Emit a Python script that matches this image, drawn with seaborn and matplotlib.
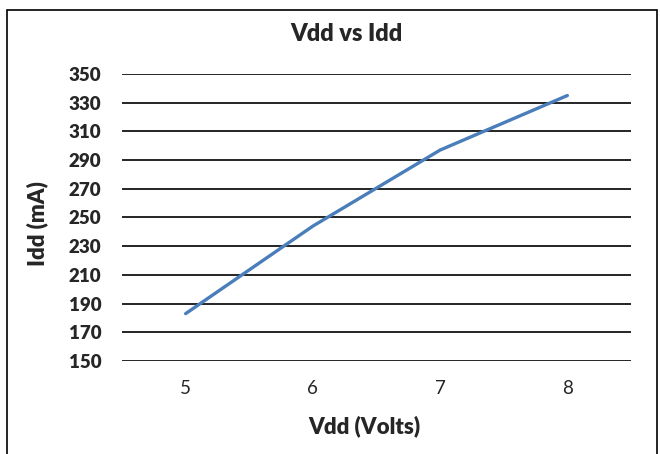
import matplotlib
matplotlib.use("Agg")
import matplotlib.pyplot as plt
import seaborn as sns
import pandas as pd
from matplotlib.patches import Rectangle

# Data
vdd_volts = ["5", "6", "7", "8"]
idd_ma = [183, 244, 297, 335]
y_ticks = [150, 170, 190, 210, 230, 250, 270, 290, 310, 330, 350]

sns.set_theme(style="white")
plt.rcParams['font.family'] = ['Lato', 'DejaVu Sans']

df = pd.DataFrame({"Vdd": vdd_volts, "Idd": idd_ma})

W, H = 660, 454
fig = plt.figure(figsize=(W / 100, H / 100), dpi=100)
fig.patch.set_facecolor("white")
ax = fig.add_axes([122 / W, 1 - 361 / H, (631 - 122) / W, (361 - 74) / H])

sns.lineplot(data=df, x="Vdd", y="Idd", ax=ax, color="#4A7EBB", linewidth=2.4,
             sort=False, zorder=3)

ax.set_xlim(-0.5, len(vdd_volts) - 0.5)
ax.set_ylim(150, 350)
ax.set_yticks(y_ticks)
ax.set_yticklabels([str(v) for v in y_ticks], fontweight="heavy", fontsize=13.5)
ax.tick_params(axis="y", length=0, pad=15)
ax.tick_params(axis="x", length=0, pad=14, labelsize=13.5)
ax.yaxis.grid(True, color="black", linewidth=1.2)
ax.xaxis.grid(False)
for s in ax.spines.values():
    s.set_visible(False)

ax.set_xlabel("Vdd (Volts)", fontweight="heavy", fontsize=16)
ax.xaxis.label.set_verticalalignment("center")
ax.xaxis.set_label_coords((364 - 122) / 509, (361 - 426) / 287)
ax.set_ylabel("Idd (mA)", fontweight="heavy", fontsize=16)
ax.yaxis.label.set_verticalalignment("center")
ax.yaxis.set_label_coords((37 - 122) / 509, (361 - 224) / 287)
fig.text(346 / W, 1 - 34 / H, "Vdd vs Idd", ha="center", va="center",
         fontweight="heavy", fontsize=17)

fig.patches.append(Rectangle((7, -5), 650, 444 + 5, transform=None,
                             fill=False, edgecolor="black", linewidth=1.2))

fig.savefig("out.png", dpi=100)
